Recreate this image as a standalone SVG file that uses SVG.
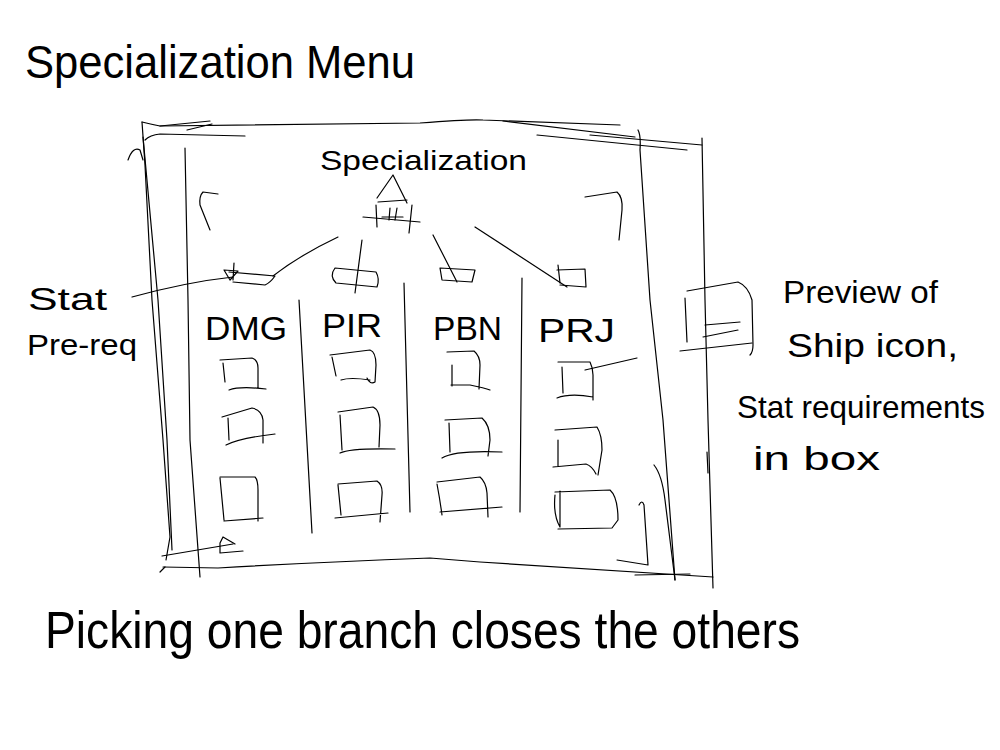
<svg xmlns="http://www.w3.org/2000/svg" width="1000" height="750" viewBox="0 0 1000 750">
  <style>
    .ink { fill: none; stroke: #000; stroke-width: 1.2; stroke-linecap: round; stroke-linejoin: round; }
    .hand { font-family: "Liberation Sans", "DejaVu Sans", sans-serif; fill: #000; }
  </style>
  <rect width="1000" height="750" fill="#fff"/>

  <!-- page title -->
  <text class="hand" x="25" y="78" font-size="46" textLength="390" lengthAdjust="spacingAndGlyphs">Specialization Menu</text>

  <!-- menu window frame (sketched, doubled strokes) -->
  <g id="frame" class="ink">
    <path d="M142,122 Q150,124 160,126 L210,121"/>
    <path d="M187,130 L212,124"/>
    <path d="M160,126 Q300,124 420,123 Q470,119 483,120 L620,125"/>
    <path d="M503,121 L635,137"/>
    <path d="M537,135 L687,150"/>
    <path d="M590,135 L702,145"/>
    <path d="M145,140 Q150,135 160,134 L245,136"/>
    <path d="M142,122 L145,165 L152,300 L163,440 L170,537 L166,560"/>
    <path d="M143,137 L158,300 L167,440 L172,550"/>
    <path d="M128,160 Q133,146 140,150 L143,160"/>
    <path d="M185,148 L188,300 L190,440 L200,577"/>
    <path d="M638,130 Q641,135 640,150 L650,300 L663,420 L675,580"/>
    <path d="M702,138 L705,300 L708,420 L713,588"/>
    <path d="M707,452 L708,473"/>
    <path d="M163,567 L218,568 Q320,562 430,558 L480,562 L713,577"/>
    <path d="M635,575 L690,574"/>
    <path d="M160,572 L165,567"/>
    <path d="M162,556 L233,544"/>
    <path d="M220,553 L220,543 L223,537 L235,544 M220,553 L243,551"/>
    <path d="M654,465 Q662,475 665,500 L675,580"/>
    <path d="M639,505 Q642,499 644,505 L648,565 L617,560"/>
    <path d="M218,194 L203,192 Q199,196 200,205 L210,230"/>
    <path d="M585,197 L617,192 Q623,197 622,210 L619,240"/>
  </g>

  <!-- column dividers -->
  <g id="columns" class="ink">
    <path d="M299,300 L312,533"/>
    <path d="M404,283 L410,512"/>
    <path d="M522,278 L520,512"/>
  </g>

  <!-- root specialization icon -->
  <g id="node-root">
    <text class="hand" x="320" y="170" font-size="28" textLength="207" lengthAdjust="spacingAndGlyphs">Specialization</text>
    <g class="ink">
      <path d="M377,198 L393,175 L407,203"/>
      <path d="M378,202 L407,200"/>
      <path d="M363,217 L420,222"/>
      <path d="M376,205 L377,227"/>
      <path d="M382,217 L403,217"/>
      <path d="M390,208 L389,220 M397,208 L395,220"/>
      <path d="M412,205 L409,233"/>
    </g>
  </g>

  <!-- branch columns: stat prereq tag, label, three slots -->
  <g id="node-dmg">
    <g class="ink">
      <path d="M229,272 L275,276 Q270,283 265,285 L233,282"/>
      <path d="M234,263 L233,280 M224,270 L238,271 L230,280 Z"/>
      <path d="M220,360 L252,358 Q258,360 258,368 L258,388 M223,363 L225,382 M229,390 Q240,386 266,389"/>
      <path d="M222,417 L252,408 Q262,410 263,420 L263,443 M228,418 L229,440 M226,445 Q240,438 275,434"/>
      <path d="M220,477 L255,477 Q258,480 258,490 L258,521 M220,478 L224,520 M224,521 L263,518"/>
    </g>
    <text class="hand" x="205" y="340" font-size="34" textLength="82" lengthAdjust="spacingAndGlyphs">DMG</text>
  </g>

  <g id="node-pir">
    <g class="ink">
      <path d="M335,268 L376,272 Q380,279 377,287 L336,283 Q329,276 335,268 Z"/>
      <path d="M330,355 L370,350 Q376,352 376,365 L375,382 Q370,385 367,378 M332,357 L336,376 M341,380 Q350,377 370,380"/>
      <path d="M338,412 L373,407 Q380,410 380,425 L379,447 M340,415 L342,450 M340,453 Q350,448 395,449"/>
      <path d="M338,484 L377,481 Q383,485 382,495 L380,522 M338,485 L341,515 M335,518 L388,513"/>
    </g>
    <text class="hand" x="322" y="337" font-size="34" textLength="60" lengthAdjust="spacingAndGlyphs">PIR</text>
  </g>

  <g id="node-pbn">
    <g class="ink">
      <path d="M440,268 L475,270 L472,282 L442,280 Z"/>
      <path d="M447,352 L474,351 Q480,356 480,365 L479,389 M452,365 L452,386 M451,385 L470,385 Q485,388 490,390"/>
      <path d="M445,420 L482,418 Q490,425 490,440 L488,456 M449,423 L450,452 M442,458 Q455,450 502,452"/>
      <path d="M437,482 L480,477 Q486,482 487,493 L488,517 M437,484 Q440,500 442,515 M440,512 L502,507"/>
    </g>
    <text class="hand" x="433" y="340" font-size="34" textLength="69" lengthAdjust="spacingAndGlyphs">PBN</text>
  </g>

  <g id="node-prj">
    <g class="ink">
      <path d="M557,270 L585,269 L586,287 L560,285 M558,265 L560,283"/>
      <path d="M558,362 L590,362 Q593,368 593,375 L593,400 M562,367 L563,393 M557,398 Q570,393 593,397 M585,370 L637,358"/>
      <path d="M555,430 L597,427 Q602,435 602,450 L598,475 M558,440 L558,466 M553,467 L586,464 Q592,466 596,474"/>
      <path d="M555,492 L610,490 Q618,497 618,520 L612,528 L558,529 M560,491 L560,527 M555,495 Q553,515 560,527"/>
    </g>
    <text class="hand" x="538" y="342" font-size="34" textLength="77" lengthAdjust="spacingAndGlyphs">PRJ</text>
  </g>

  <!-- ship icon preview box -->
  <g id="node-preview" class="ink">
    <path d="M687,291 L738,282 Q748,286 752,300 L753,345 Q753,352 750,355"/>
    <path d="M685,298 L687,342"/>
    <path d="M705,325 L740,322 M703,337 L738,330 M680,351 L752,343"/>
  </g>

  <!-- branch connectors from the root icon to each prereq tag -->
  <g id="connectors" class="ink">
    <path d="M273,276 Q300,255 338,237"/>
    <path d="M362,240 L355,293"/>
    <path d="M433,235 L457,282"/>
    <path d="M475,227 L567,287"/>
    <path d="M132,297 Q187,282 233,277"/>
  </g>

  <!-- notes -->
  <g id="notes">
    <text class="hand" x="28" y="310" font-size="32" textLength="79" lengthAdjust="spacingAndGlyphs">Stat</text>
    <text class="hand" x="27" y="355" font-size="30" textLength="110" lengthAdjust="spacingAndGlyphs">Pre-req</text>
    <text class="hand" x="783" y="303" font-size="32" textLength="155" lengthAdjust="spacingAndGlyphs">Preview of</text>
    <text class="hand" x="787" y="357" font-size="34" textLength="171" lengthAdjust="spacingAndGlyphs">Ship icon,</text>
    <text class="hand" x="737" y="418" font-size="32" textLength="248" lengthAdjust="spacingAndGlyphs">Stat requirements</text>
    <text class="hand" x="753" y="470" font-size="34" textLength="127" lengthAdjust="spacingAndGlyphs">in box</text>
    <text class="hand" x="45" y="648" font-size="52" textLength="755" lengthAdjust="spacingAndGlyphs">Picking one branch closes the others</text>
  </g>
</svg>
